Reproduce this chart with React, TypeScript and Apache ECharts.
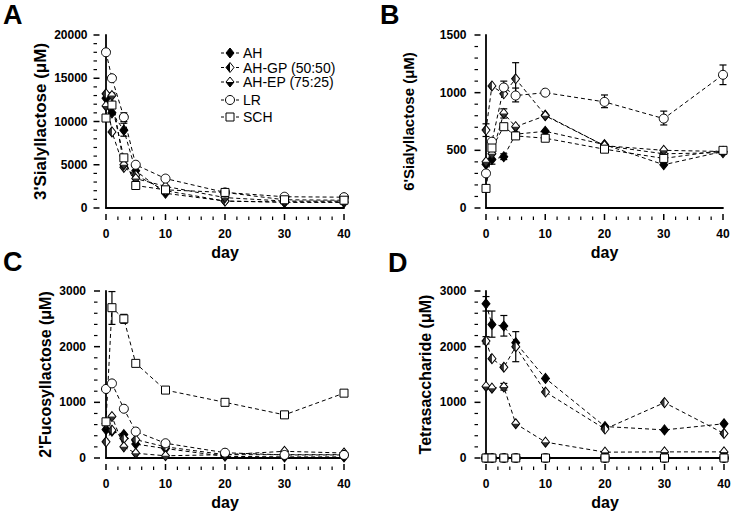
import React, { useEffect, useRef } from 'react';
import * as echarts from 'echarts';

const days = [0, 1, 3, 5, 10, 20, 30, 40];
const groupNames = ['AH', 'AH-GP (50:50)', 'AH-EP (75:25)', 'LR', 'SCH'];

// Panel A: 3'Sialyllactose
const a_AH = [12700, 11000, 9000, 4300, 1700, 800, 650, 650];
const a_GP = [13200, 8800, 4700, 3800, 2000, 800, 700, 700];
const a_EP = [11800, 13000, 5000, 3400, 2500, 1200, 800, 800];
const a_LR = [18000, 15000, 10500, 5000, 3400, 1800, 1300, 1250];
const a_SCH = [10400, 11900, 5800, 2600, 2100, 1800, 950, 900];
const a_err = [[1, 12000, 13300], [3, 8300, 9800], [3, 10000, 11000], [1, 10800, 11600]];

// Panel B: 6'Sialyllactose
const b_AH = [380, 420, 445, 640, 665, 550, 375, 490];
const b_GP = [676, 1058, 990, 1120, 805, 540, 470, 480];
const b_EP = [400, 470, 820, 705, 800, 540, 500, 490];
const b_LR = [300, 575, 1045, 975, 1000, 920, 775, 1155];
const b_SCH = [170, 520, 705, 625, 605, 510, 430, 500];
const b_err = [[0, 620, 730], [1, 380, 470], [3, 420, 470], [3, 990, 1100], [3, 780, 860], [5, 920, 1040], [5, 980, 1260], [20, 870, 980], [30, 720, 840], [40, 1070, 1240]];

// Panel C: 2'Fucosyllactose
const c_AH = [510, 480, 420, 250, 170, 30, 20, 20];
const c_GP = [290, 500, 350, 330, 200, 60, 60, 60];
const c_EP = [620, 745, 200, 85, 40, 60, 120, 90];
const c_LR = [1240, 1340, 885, 475, 265, 95, 55, 55];
const c_SCH = [650, 2700, 2500, 1700, 1220, 1000, 775, 1165];
const c_err = [[1, 2400, 2990], [3, 2420, 2580]];

// Panel D: Tetrasaccharide
const d_AH = [2770, 2400, 2370, 2070, 1430, 565, 505, 615];
const d_GP = [2100, 1785, 1630, 2000, 1185, 520, 995, 440];
const d_EP = [1285, 1255, 1275, 615, 285, 105, 110, 110];
const d_LR = [0, 0, 0, 0, 0, 0, 0, 0];
const d_SCH = [0, 0, 0, 0, 0, 0, 0, 0];
const d_err = [[0, 2640, 2900], [1, 2170, 2640], [3, 2190, 2560], [5, 1730, 2270], [0, 2050, 2180], [3, 1220, 1340]];

const FONT = "'Liberation Sans', Arial, Helvetica, sans-serif";

const panels = [
  { letter: 'A', lx: 3, ly: 15, title: "3'Sialyllactose (μM)", yMax: 20000, yInt: 5000, vals: [a_AH, a_GP, a_EP, a_LR, a_SCH], err: a_err,
    grid: { left: 106, right: 390, top: 35, bottom: 308 }, yOff: 12.5, yMargin: 6, yGap: 45, ySize: 17 },
  { letter: 'B', lx: 380, ly: 15, title: "6'Sialyllactose (μM)", yMax: 1500, yInt: 500, vals: [b_AH, b_GP, b_EP, b_LR, b_SCH], err: b_err,
    grid: { left: 486, right: 11, top: 35, bottom: 308 }, yOff: 11.5, yMargin: 8, yGap: 59, ySize: 15 },
  { letter: 'C', lx: 3, ly: 262, title: "2'Fucosyllactose (μM)", yMax: 3000, yInt: 1000, vals: [c_AH, c_GP, c_EP, c_LR, c_SCH], err: c_err,
    grid: { left: 106, right: 390, top: 291, bottom: 58 }, yOff: 12, yMargin: 8, yGap: 41, ySize: 16 },
  { letter: 'D', lx: 388, ly: 263, title: 'Tetrasaccharide (μM)', yMax: 3000, yInt: 1000, vals: [d_AH, d_GP, d_EP, d_LR, d_SCH], err: d_err,
    grid: { left: 486, right: 10, top: 291, bottom: 58 }, yOff: 11.5, yMargin: 8, yGap: 41, ySize: 16 },
];

const symbols: any[] = [
  { symbol: 'diamond', size: [8, 10], fill: '#000' },
  { symbol: 'diamond', size: [8, 10], fill: '#fff' },
  { symbol: 'diamond', size: [8, 10], fill: '#fff' },
  { symbol: 'circle', size: 9, fill: '#fff' },
  { symbol: 'rect', size: 8, fill: '#fff' },
];

const X_OFF = 12;
const X_MAX = 40;
const X_INT = 10;
const MINOR_SPLIT = 5;

function buildOption() {
  const grids: any[] = [];
  const xAxes: any[] = [];
  const yAxes: any[] = [];
  const series: any[] = [];

  panels.forEach((p, pi) => {
    grids.push({ ...p.grid, containLabel: false });
    xAxes.push({
      gridIndex: pi, type: 'value', min: 0, max: X_MAX, interval: X_INT, offset: X_OFF,
      name: 'day', nameLocation: 'middle', nameGap: 24,
      nameTextStyle: { fontFamily: FONT, fontWeight: 'bold', fontSize: 16, color: '#000' },
      axisLine: { show: true, lineStyle: { color: '#000', width: 1.8 } },
      axisTick: { show: false },
      splitLine: { show: false },
      axisLabel: { margin: 8, fontFamily: FONT, fontWeight: 'bold', fontSize: 12, color: '#000', formatter: (v: number) => String(v) },
    });
    yAxes.push({
      gridIndex: pi, type: 'value', min: 0, max: p.yMax, interval: p.yInt, offset: p.yOff,
      name: p.title, nameLocation: 'middle', nameGap: p.yGap, nameRotate: 90,
      nameTextStyle: { fontFamily: FONT, fontWeight: 'bold', fontSize: p.ySize, color: '#000' },
      axisLine: { show: true, lineStyle: { color: '#000', width: 1.8 } },
      axisTick: { show: false },
      splitLine: { show: false },
      axisLabel: { margin: p.yMargin, fontFamily: FONT, fontWeight: 'bold', fontSize: 12, color: '#000', formatter: (v: number) => String(v) },
    });

    // error bars
    series.push({
      type: 'custom', xAxisIndex: pi, yAxisIndex: pi, data: p.err, z: 1, silent: true, clip: false,
      encode: { x: 0, y: [1, 2] },
      renderItem: (params: any, api: any) => {
        const x = api.value(0);
        const lo = api.coord([x, api.value(1)]);
        const hi = api.coord([x, api.value(2)]);
        const w = 3.5;
        const st = { stroke: '#000', lineWidth: 1.2 };
        return {
          type: 'group',
          children: [
            { type: 'line', shape: { x1: lo[0], y1: lo[1], x2: hi[0], y2: hi[1] }, style: st },
            { type: 'line', shape: { x1: lo[0] - w, y1: lo[1], x2: lo[0] + w, y2: lo[1] }, style: st },
            { type: 'line', shape: { x1: hi[0] - w, y1: hi[1], x2: hi[0] + w, y2: hi[1] }, style: st },
          ],
        };
      },
    });

    p.vals.forEach((vals, gi) => {
      const s = symbols[gi];
      const data = days.map((d, i) => [d, vals[i]]);
      series.push({
        type: 'line', name: groupNames[gi], xAxisIndex: pi, yAxisIndex: pi, data,
        symbol: s.symbol, symbolSize: s.size, showAllSymbol: true, clip: false, z: 3,
        lineStyle: { color: '#000', width: 1, type: [4, 3] },
        itemStyle: { color: s.fill, borderColor: '#000', borderWidth: 1 },
        emphasis: { disabled: true },
      });
      if (gi === 1) {
        series.push({
          type: 'scatter', xAxisIndex: pi, yAxisIndex: pi, data, silent: true, z: 3,
          symbol: 'path://M1,0 L1,2 L0,1 Z', symbolSize: [4, 10], symbolOffset: [-2, 0],
          itemStyle: { color: '#000' }, clip: false,
        });
      }
      if (gi === 2) {
        series.push({
          type: 'scatter', xAxisIndex: pi, yAxisIndex: pi, data, silent: true, z: 3,
          symbol: 'path://M0,0 L2,0 L1,1 Z', symbolSize: [8, 5], symbolOffset: [0, 2.5],
          itemStyle: { color: '#000' }, clip: false,
        });
      }
    });
  });

  return {
    animation: false,
    backgroundColor: '#fff',
    grid: grids,
    xAxis: xAxes,
    yAxis: yAxes,
    series,
  };
}

function buildGraphics(chart: any) {
  const graphics: any[] = [];
  panels.forEach((p, pi) => {
    graphics.push({
      type: 'text', x: p.lx, y: p.ly,
      style: { text: p.letter, fontFamily: FONT, fontWeight: 'bold', fontSize: 27, fill: '#000', textVerticalAlign: 'middle', textAlign: 'left' },
    });
    // inside tick marks on the detached axes (major + minor)
    const yStep = p.yInt / MINOR_SPLIT;
    for (let k = 0; k * yStep <= p.yMax + 1e-9; k++) {
      const pt = chart.convertToPixel({ gridIndex: pi }, [0, k * yStep]);
      if (!pt) continue;
      const major = k % MINOR_SPLIT === 0;
      const x0 = pt[0] - p.yOff;
      graphics.push({ type: 'line', z: 10, shape: { x1: x0, y1: pt[1], x2: x0 + (major ? 6 : 3.5), y2: pt[1] }, style: { stroke: '#000', lineWidth: major ? 1.5 : 1.2 } });
    }
    const xStep = X_INT / MINOR_SPLIT;
    for (let k = 0; k * xStep <= X_MAX + 1e-9; k++) {
      const pt = chart.convertToPixel({ gridIndex: pi }, [k * xStep, 0]);
      if (!pt) continue;
      const major = k % MINOR_SPLIT === 0;
      const y0 = pt[1] + X_OFF;
      graphics.push({ type: 'line', z: 10, shape: { x1: pt[0], y1: y0, x2: pt[0], y2: y0 - (major ? 6 : 3.5) }, style: { stroke: '#000', lineWidth: major ? 1.5 : 1.2 } });
    }
  });

  // legend (drawn in panel A)
  const rows = [53, 67.5, 82, 100, 117];
  const cx = 230;
  rows.forEach((ry, gi) => {
    graphics.push({ type: 'line', shape: { x1: 221, y1: ry, x2: 240, y2: ry }, style: { stroke: '#000', lineWidth: 1, lineDash: [3, 2] } });
    const st = { stroke: '#000', lineWidth: 1, fill: symbols[gi].fill };
    if (gi <= 2) {
      graphics.push({ type: 'polygon', shape: { points: [[cx, ry - 5], [cx + 4, ry], [cx, ry + 5], [cx - 4, ry]] }, style: st });
      if (gi === 1) graphics.push({ type: 'polygon', shape: { points: [[cx, ry - 5], [cx, ry + 5], [cx - 4, ry]] }, style: { fill: '#000' } });
      if (gi === 2) graphics.push({ type: 'polygon', shape: { points: [[cx - 4, ry], [cx + 4, ry], [cx, ry + 5]] }, style: { fill: '#000' } });
    } else if (gi === 3) {
      graphics.push({ type: 'circle', shape: { cx, cy: ry, r: 4.5 }, style: st });
    } else {
      graphics.push({ type: 'rect', shape: { x: cx - 4, y: ry - 4, width: 8, height: 8 }, style: st });
    }
    graphics.push({
      type: 'text', x: 243, y: ry,
      style: { text: groupNames[gi], fontFamily: FONT, fontSize: 14, fill: '#000', textVerticalAlign: 'middle', textAlign: 'left' },
    });
  });
  return graphics;
}

export default function App() {
  const ref = useRef<HTMLDivElement>(null);
  useEffect(() => {
    if (!ref.current) return;
    const chart = echarts.init(ref.current, null, { renderer: 'svg' });
    chart.setOption(buildOption() as any);
    chart.setOption({ graphic: buildGraphics(chart) } as any);
    return () => chart.dispose();
  }, []);
  return <div ref={ref} style={{ position: 'fixed', left: 0, top: 0, width: 734, height: 516, background: '#fff' }} />;
}
